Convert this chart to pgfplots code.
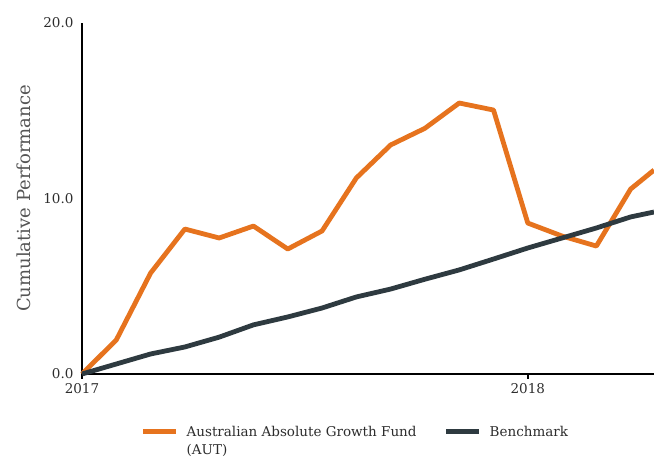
\documentclass[border=0pt]{standalone}
\usepackage{fontspec}
\setmainfont{DejaVu Serif}
\usepackage{pgfplots}
\pgfplotsset{compat=1.18}
\definecolor{fundorange}{RGB}{230,115,30}
\definecolor{benchdark}{RGB}{46,58,64}
\definecolor{txt}{RGB}{45,45,45}
\definecolor{lbl}{RGB}{85,85,85}
\begin{document}
\begin{tikzpicture}[x=1pt,y=1pt]
\path[use as bounding box] (0,0) rectangle (654,457);
\begin{axis}[
  at={(82pt,83pt)}, anchor=south west, scale only axis,
  width=572pt, height=351pt,
  xmin=0, xmax=16.68, ymin=0, ymax=20,
  clip=false,
  axis lines=left,
  axis line style={-, line width=1.5pt, black},
  xtick={0,13}, xticklabels={2017,2018},
  ytick={0,10,20},
  yticklabel={\pgfmathprintnumber[fixed,fixed zerofill,precision=1]{\tick}},
  /pgf/number format/assume math mode=true,
  xtick style={line width=1.5pt, black},
  major tick length=5pt,
  tick align=outside,
  ytick style={draw=none},
  ticklabel style={font=\fontsize{13.5}{15}\selectfont, text=txt},
  yticklabel style={xshift=0pt},
  xticklabel style={yshift=-1pt},
  ylabel={Cumulative Performance},
  ylabel style={at={(axis description cs:-0.101,0.5)}, anchor=center, font=\fontsize{18}{21}\selectfont, text=lbl},
  legend columns=2,
  legend style={at={(axis description cs:0.097,-0.136)}, anchor=north west, draw=none,
    font=\fontsize{13.5}{16}\selectfont, text=txt,
    /tikz/every odd column/.append style={column sep=6pt},
    /tikz/every even column/.append style={column sep=0pt}},
  legend cell align=left,
  legend image code/.code={\draw[#1, line width=5pt] (0pt,0pt) -- (33pt,0pt);},
]
\addplot[fundorange, line width=4.8pt, line join=round] coordinates {
(0,0) (1,1.94) (2,5.75) (3,8.26) (4,7.75) (5,8.43) (6,7.12) (7,8.15) (8,11.17)
(9,13.05) (10,14.0) (11,15.44) (12,15.04) (13,8.6) (14,7.86) (15,7.29) (16,10.54) (16.68,11.62)};
\addlegendentry{\raisebox{0pt}[\height][3pt]{\parbox[t]{255pt}{Australian Absolute Growth Fund\\[2pt](AUT)}}}
\addplot[benchdark, line width=4.8pt, line join=round] coordinates {
(0,0) (1,0.57) (2,1.14) (3,1.54) (4,2.1) (5,2.8) (6,3.25) (7,3.76) (8,4.39)
(9,4.84) (10,5.4) (11,5.93) (12,6.55) (13,7.18) (14,7.75) (15,8.32) (16,8.95) (16.68,9.23)};
\addlegendentry{Benchmark}
\end{axis}
\end{tikzpicture}
\end{document}
